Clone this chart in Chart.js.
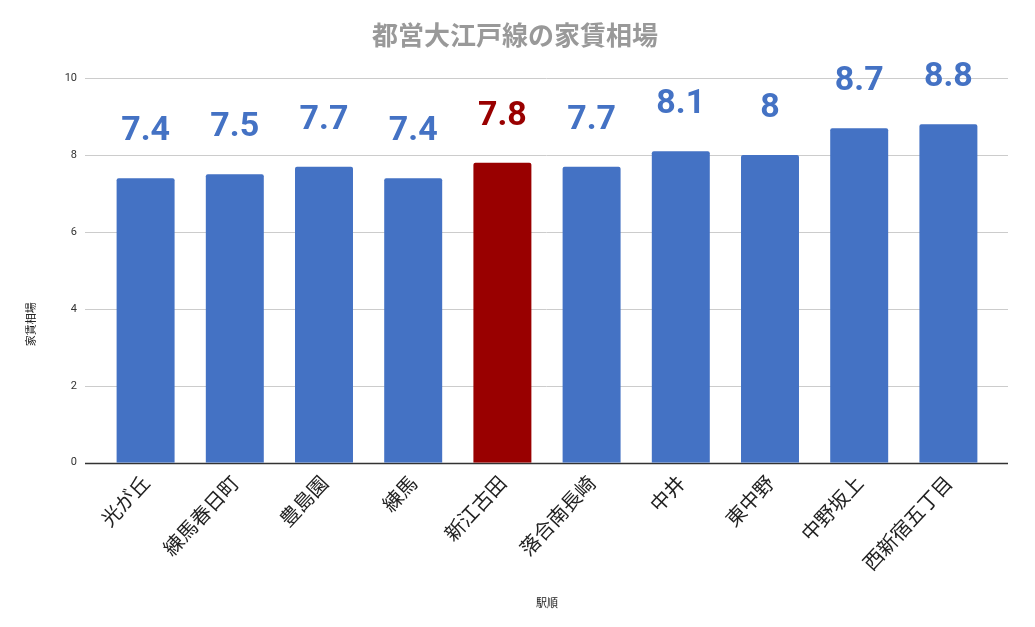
<!DOCTYPE html>
<html><head><meta charset="utf-8">
<script src="https://cdn.jsdelivr.net/npm/chart.js@4/dist/chart.umd.min.js"></script>
<style>html,body{margin:0;padding:0;background:#fff}#wrap{width:1035px;height:627px}</style>
</head><body><div id="wrap"><canvas id="c"></canvas></div>
<script>
const stations = ['光が丘','練馬春日町','豊島園','練馬','新江古田','落合南長崎','中井','東中野','中野坂上','西新宿五丁目'];
const rents = [7.4, 7.5, 7.7, 7.4, 7.8, 7.7, 8.1, 8, 8.7, 8.8];
const highlightIndex = 4;
const yTicks = [0, 2, 4, 6, 8, 10];
const yAxisTitle = '家賃相場';
const BLUE = '#4472C4', RED = '#990000';
const FONT = '"Noto Sans CJK JP", Roboto, sans-serif';

const gridPlugin = {
  id: 'grid',
  beforeDatasetsDraw(chart) {
    const {ctx, chartArea, scales} = chart;
    const x0 = chartArea.left - 16, x1 = chartArea.right + 15;
    ctx.save();
    yTicks.forEach(v => {
      const y = Math.round(scales.y.getPixelForValue(v)) + 0.5;
      ctx.strokeStyle = v === 0 ? '#333333' : '#cccccc';
      ctx.lineWidth = v === 0 ? 1.5 : 1;
      ctx.beginPath(); ctx.moveTo(x0, y); ctx.lineTo(x1, y); ctx.stroke();
    });
    ctx.restore();
  },
  afterDatasetsDraw(chart) {
    const {ctx, scales} = chart;
    const meta = chart.getDatasetMeta(0);
    ctx.save();
    ctx.font = 'bold 34px Roboto, sans-serif';
    ctx.textAlign = 'center';
    ctx.textBaseline = 'alphabetic';
    meta.data.forEach((bar, i) => {
      ctx.fillStyle = i === highlightIndex ? RED : BLUE;
      ctx.fillText(String(rents[i]), bar.x, bar.y - 38);
    });
    // y axis title
    ctx.translate(31, scales.y.getPixelForValue(3.6));
    ctx.rotate(-Math.PI / 2);
    ctx.font = '11px ' + FONT;
    ctx.fillStyle = '#222';
    ctx.textBaseline = 'middle';
    ctx.fillText(yAxisTitle, 0, 0);
    ctx.restore();
  }
};

new Chart(document.getElementById('c'), {
  type: 'bar',
  data: {
    labels: stations,
    datasets: [{
      data: rents,
      backgroundColor: rents.map((_, i) => i === highlightIndex ? RED : BLUE),
      borderRadius: {topLeft: 2, topRight: 2},
      barPercentage: 0.65,
      categoryPercentage: 1.0
    }]
  },
  options: {
    responsive: true,
    maintainAspectRatio: false,
    animation: false,
    layout: {padding: {top: 0, right: 42, bottom: 18, left: 37}},
    plugins: {
      legend: {display: false},
      tooltip: {enabled: false},
      title: {
        display: true,
        text: '都営大江戸線の家賃相場',
        color: '#999999',
        font: {family: FONT, size: 26, weight: 'bold'},
        padding: {top: 20, bottom: 27}
      }
    },
    scales: {
      x: {
        grid: {display: false, drawTicks: false},
        border: {display: false},
        ticks: {
          color: '#222', autoSkip: false, maxRotation: 47, minRotation: 47,
          padding: 8,
          font: {family: FONT, size: 20}
        },
        title: {display: true, text: '駅順', color: '#222', font: {family: FONT, size: 11}, padding: {top: 13, bottom: 0}}
      },
      y: {
        min: 0, max: 10,
        afterFit(s) { s.width = 64; },
        grid: {display: false, drawTicks: false},
        border: {display: false},
        ticks: {stepSize: 2, color: '#333', padding: 24, font: {family: 'Roboto, sans-serif', size: 11}},
        title: {display: false}
      }
    }
  },
  plugins: [gridPlugin]
});
</script></body></html>
